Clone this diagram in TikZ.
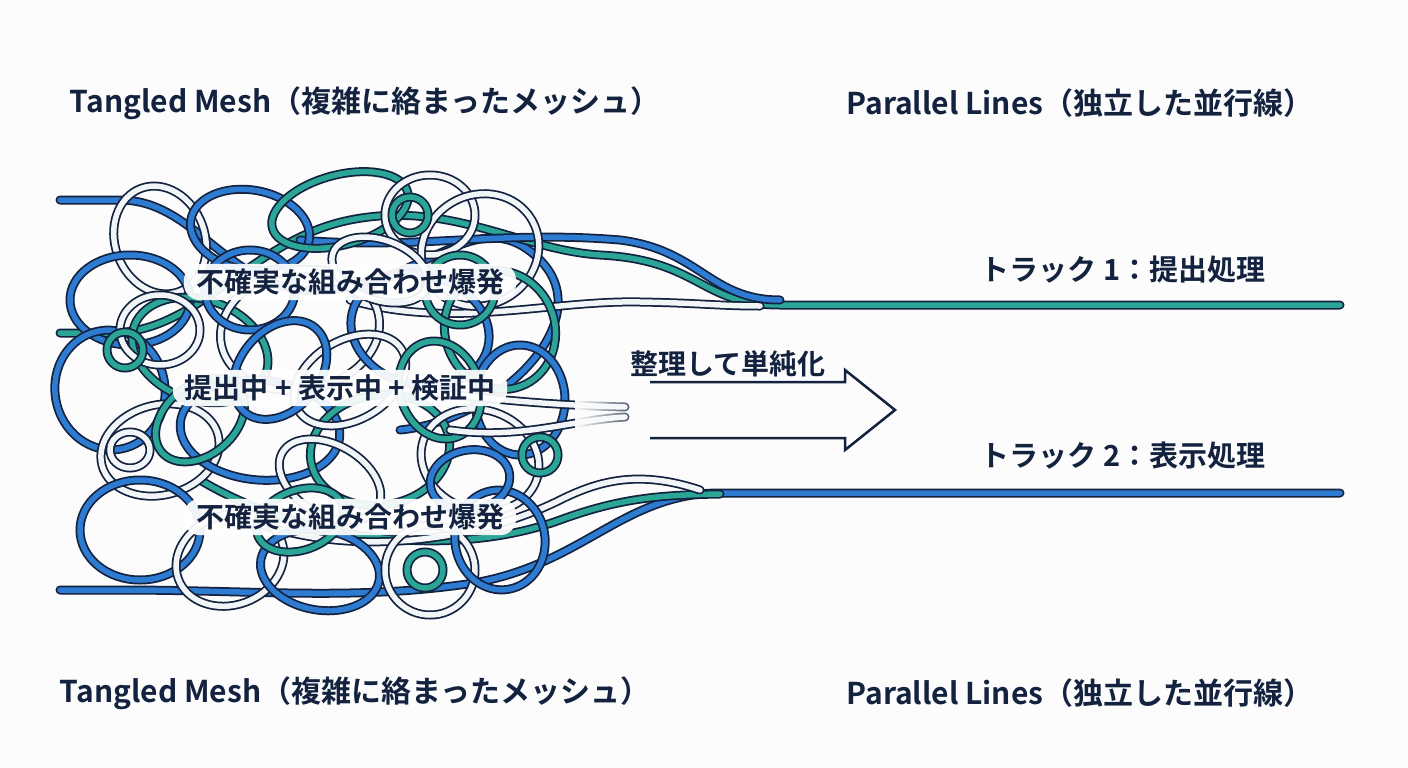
\documentclass[tikz,border=0pt]{standalone}
\usepackage{fontspec}
\usetikzlibrary{fadings}
\newfontfamily\jp{Noto Sans CJK JP Bold}
\definecolor{navy}{HTML}{13223F}
\definecolor{bl}{HTML}{2E7BD2}
\definecolor{tl}{HTML}{2BA596}
\definecolor{wh}{HTML}{F2F5F8}
\definecolor{bg}{HTML}{FCFCFC}
\tikzset{
 ttl/.style={font=\jp\fontsize{30}{36}\selectfont, text=navy},
 trk/.style={font=\jp\fontsize{29}{34}\selectfont, text=navy},
 lab/.style={font=\jp\fontsize{28}{32}\selectfont, text=navy, fill=white, fill opacity=0.93, text opacity=1, rounded corners=16pt, inner xsep=12pt, inner ysep=5pt},
}
\newcommand{\strd}[2]{\draw[navy,line width=9pt,line cap=round] #2; \draw[#1,line width=5.5pt,line cap=round] #2;}
\begin{document}
\begin{tikzpicture}[x=1pt,y=-1pt]
\fill[bg] (0,0) rectangle (1408,768);
\useasboundingbox (0,0) rectangle (1408,768);
% long strands
\strd{bl}{(60,200) -- (120,200) .. controls (200,200) and (230,300) .. (330,290) .. controls (430,280) and (480,200) .. (540,260) .. controls (600,320) and (500,420) .. (400,430)}
\strd{tl}{(60,333) -- (110,333) .. controls (200,333) and (250,240) .. (350,220) .. controls (450,200) and (520,250) .. (600,255) .. controls (700,260) and (700,305) .. (780,305) -- (1340,305)}
\strd{bl}{(300,240) .. controls (420,250) and (500,230) .. (620,240) .. controls (700,250) and (710,300) .. (780,300)}
\strd{wh}{(350,300) .. controls (450,330) and (550,300) .. (640,302) .. controls (700,303) and (720,306) .. (760,306)}
\strd{bl}{(60,590) -- (120,590) .. controls (250,590) and (350,600) .. (460,585) .. controls (580,570) and (620,493) .. (720,493) -- (1340,493)}
\strd{tl}{(200,480) .. controls (300,540) and (450,560) .. (560,520) .. controls (620,498) and (660,495) .. (720,494)}
\strd{wh}{(250,520) .. controls (350,560) and (480,540) .. (560,500) .. controls (600,480) and (640,470) .. (700,490)}
% loops
\foreach \cx/\cy/\rx/\ry/\r/\c in {
 160/240/45/55/20/wh, 250/230/60/40/-10/bl, 340/210/70/35/15/tl, 430/215/45/40/0/wh,
 480/250/60/55/30/wh, 130/300/60/45/0/bl, 110/390/55/60/10/bl, 200/350/70/50/-20/tl,
 300/330/80/60/10/wh, 420/330/70/55/-15/bl, 500/330/55/60/20/tl, 520/400/45/55/0/bl,
 160/450/60/45/15/wh, 260/430/80/50/-5/bl, 380/450/70/55/10/tl, 480/460/60/50/-20/wh,
 140/530/60/50/0/bl, 230/560/55/45/20/wh, 320/570/60/40/-10/bl, 430/570/45/45/0/wh,
 500/540/45/50/10/bl, 350/380/60/40/30/wh, 250/290/45/40/0/bl, 460/290/35/35/0/tl,
 200/420/50/35/40/tl, 330/480/55/35/-30/wh, 440/390/40/50/20/tl, 280/370/40/55/-40/bl,
 380/270/50/30/-20/wh, 160/330/40/35/0/wh, 470/480/40/30/10/bl, 300/520/45/30/20/tl,
 130/450/20/18/0/wh, 410/215/18/18/0/tl, 425/570/18/18/0/tl, 540/455/18/18/0/tl, 125/350/18/18/0/tl}
{ \strd{\c}{(\cx,\cy) ellipse[x radius=\rx, y radius=\ry, rotate=\r]} }
% strands into arrow
\strd{wh}{(430,392) .. controls (500,400) and (550,405) .. (625,407)}
\strd{wh}{(450,430) .. controls (520,440) and (570,420) .. (625,417)}
\fill[bg,path fading=east] (575,388) rectangle (650,434);
% arrow
\draw[navy,line width=2.5pt,line join=miter]
 (650,382) -- (845,382) -- (845,370) -- (895,410) -- (845,450) -- (845,438) -- (650,438);
\node[text=navy,font=\jp\fontsize{28}{32}\selectfont] (arr) at (728,364) {整理して単純化};
% labels
\node[lab] (l1) at (350,282) {不確実な組み合わせ爆発};
\node[lab] (l2) at (340,388) {提出中 + 表示中 + 検証中};
\node[lab] (l3) at (350,517) {不確実な組み合わせ爆発};
\node[ttl] (t1) at (365,103) {Tangled Mesh（複雑に絡まったメッシュ）};
\node[ttl] (t2) at (355,693) {Tangled Mesh（複雑に絡まったメッシュ）};
\node[ttl] (t3) at (1080,103) {Parallel Lines（独立した並行線）};
\node[ttl] (t4) at (1080,693) {Parallel Lines（独立した並行線）};
\node[trk] (k1) at (1123,270) {トラック 1：提出処理};
\node[trk] (k2) at (1123,456) {トラック 2：表示処理};
\end{tikzpicture}
\end{document}
